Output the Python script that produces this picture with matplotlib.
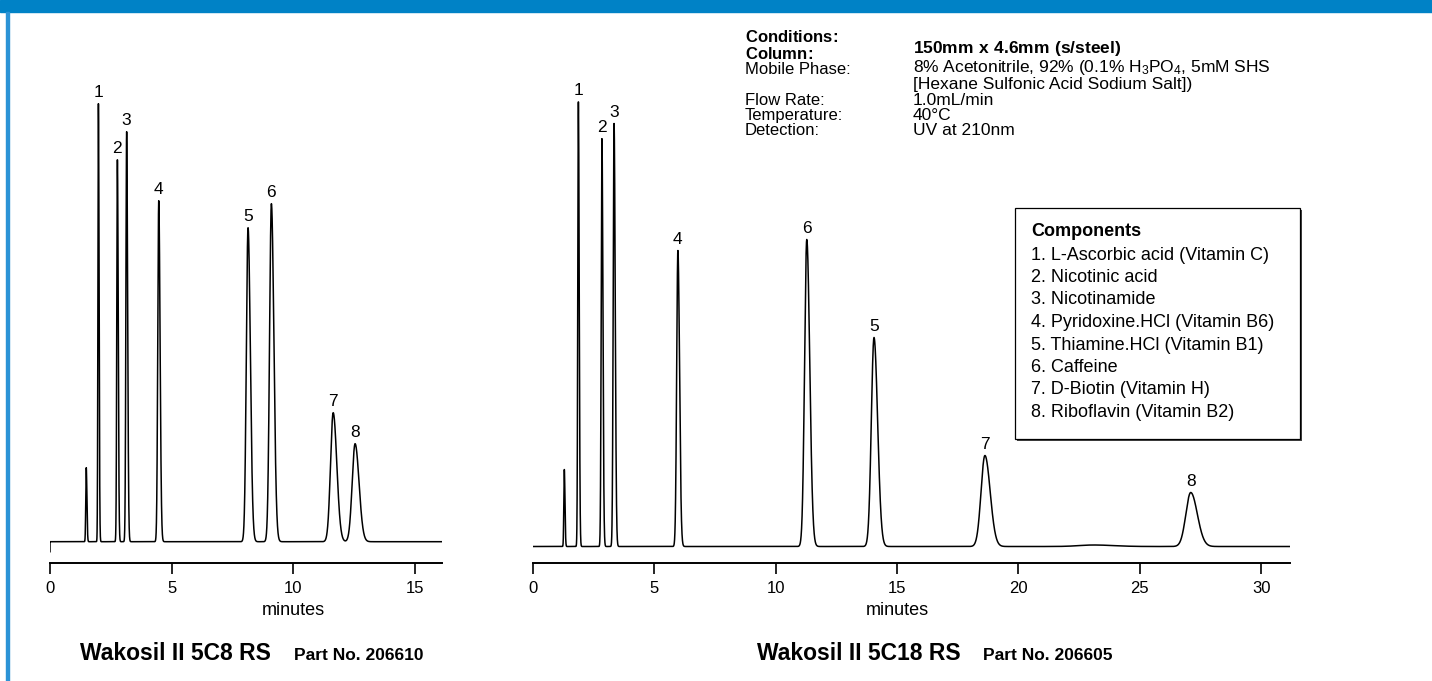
import numpy as np
import matplotlib.pyplot as plt
from matplotlib.patches import Rectangle
from matplotlib.font_manager import FontProperties

plt.rcParams['font.family'] = ['Liberation Sans', 'DejaVu Sans']
plt.rcParams['mathtext.fontset'] = 'custom'
plt.rcParams['mathtext.rm'] = 'Liberation Sans'
plt.rcParams['mathtext.bf'] = 'Liberation Sans:bold'
plt.rcParams['mathtext.default'] = 'regular'

W, H = 1432, 681
BLUE = "#0082c6"

# ---- data (times in minutes, heights in arbitrary units) ----
# Wakosil II 5C8 RS
c8_labels = ["", "1", "2", "3", "4", "5", "6", "7", "8"]
c8_times = [1.49, 1.99, 2.77, 3.15, 4.47, 8.14, 9.10, 11.64, 12.54]
c8_heights = [74, 438, 382, 410, 341, 314, 338, 129, 98]
c8_widths = [0.02, 0.02, 0.025, 0.03, 0.04, 0.07, 0.075, 0.11, 0.12]
c8_start_dip = -10

# Wakosil II 5C18 RS
c18_labels = ["", "1", "2", "3", "4", "6", "5", "7", "8", ""]
c18_times = [1.29, 1.87, 2.84, 3.34, 5.97, 11.28, 14.05, 18.62, 27.1, 23.1]
c18_heights = [77, 445, 408, 423, 296, 307, 209, 91, 54, 1.5]
c18_widths = [0.02, 0.025, 0.03, 0.035, 0.05, 0.09, 0.11, 0.16, 0.2, 0.6]

c8_ticks = [0, 5, 10, 15]
c18_ticks = [0, 5, 10, 15, 20, 25, 30]

# conditions block; bold rows written as mathtext bold so each column is one text
cond_keys = [r"$\mathbf{Conditions\!:}$", r"$\mathbf{Column\!:}$", "Mobile Phase:", "",
             "Flow Rate:", "Temperature:", "Detection:"]
cond_vals = ["", r"$\mathbf{150mm\ x\ 4.6mm\ (s/steel)}$",
             "8% Acetonitrile, 92% (0.1% H$_3$PO$_4$, 5mM SHS",
             "[Hexane Sulfonic Acid Sodium Salt])",
             "1.0mL/min", "40°C", "UV at 210nm"]

components = ["1. L-Ascorbic acid (Vitamin C)", "2. Nicotinic acid", "3. Nicotinamide",
              "4. Pyridoxine.HCl (Vitamin B6)", "5. Thiamine.HCl (Vitamin B1)",
              "6. Caffeine", "7. D-Biotin (Vitamin H)", "8. Riboflavin (Vitamin B2)"]

TAIL = 1.35  # right side of each peak a bit wider (tailing)
ROW = 15.3   # px between rows of the conditions block


def trace(t, times, heights, widths):
    y = np.zeros_like(t)
    for t0, h, s in zip(times, heights, widths):
        sig = np.where(t < t0, s, s * TAIL)
        y += h * np.exp(-(t - t0)**2 / (2 * sig**2))
    return y


def px_rect(x0, y0, x1, y1):
    return [x0 / W, 1 - y1 / H, (x1 - x0) / W, (y1 - y0) / H]


def ftext(x, y, s, **kw):
    return fig.text(x / W, 1 - y / H, s, **kw)


def spacing_for(size):
    # linespacing factor that gives ROW pixels between baselines
    r = fig.canvas.get_renderer()
    fp = FontProperties(family=['Liberation Sans'], size=size)
    _, h, d = r.get_text_width_height_descent("lp", fp, ismath=False)
    return (ROW - d) / (h - d)


def rows_text(x, first_baseline, lines, size):
    # multi-line text; va="baseline" pins the last line, so place that one
    y_last = first_baseline + (len(lines) - 1) * ROW
    return ftext(x, y_last, "\n".join(lines), ha="left", va="baseline", fontsize=size,
                 linespacing=spacing_for(size))


def chromatogram(rect_px, t_max, base_px, times, heights, widths, labels, ticks,
                 minutes_at, dip=None):
    x0, y0, x1, y1 = rect_px
    ax = fig.add_axes(px_rect(*rect_px))
    t = np.linspace(0, t_max, 12000)
    y = trace(t, times, heights, widths)
    if dip is not None:
        t = np.concatenate([[0], t])
        y = np.concatenate([[dip], y])
    ax.plot(t, y, color="black", lw=1.1, solid_joinstyle="round")
    ax.set_xlim(0, t_max)
    off = y1 - base_px
    ax.set_ylim(-off, (y1 - y0) - off)
    for sp in ["left", "right", "top"]:
        ax.spines[sp].set_visible(False)
    ax.spines["bottom"].set_linewidth(1.4)
    ax.set_yticks([])
    ax.set_xticks(ticks)
    ax.tick_params(axis="x", direction="out", length=8, width=1.2, pad=5, labelsize=12)
    for lab, t0, h in zip(labels, times, heights):
        if lab:
            ax.annotate(lab, (t0, h), xytext=(0, 4.5), textcoords="offset points",
                        ha="center", va="baseline", fontsize=12.5)
    ax.annotate("minutes", (minutes_at, 0), xycoords=ax.get_xaxis_transform(),
                xytext=(0, -34.5), textcoords="offset points",
                ha="center", va="center", fontsize=13)
    ax.patch.set_alpha(0)
    return ax


fig = plt.figure(figsize=(W / 100, H / 100), dpi=100)

# frame decoration
fig.patches.append(Rectangle((0, 1 - 12 / H), 1, 12 / H, transform=fig.transFigure,
                             color=BLUE, zorder=0))
fig.patches.append(Rectangle((6 / W, 0), 3 / W, 1 - 12 / H, transform=fig.transFigure,
                             color="#2b93d6", zorder=0))

chromatogram((50, 60, 441.7, 562.7), 16.1, 541.7, c8_times, c8_heights, c8_widths,
             c8_labels, c8_ticks, 10, dip=c8_start_dip)
chromatogram((533, 60, 1290, 563), 31.19, 546.5, c18_times, c18_heights, c18_widths,
             c18_labels, c18_ticks, 15)

ftext(80, 654, "Wakosil II 5C8 RS", ha="left", va="center", fontsize=16.5, fontweight="bold")
ftext(294, 656, "Part No. 206610", ha="left", va="center", fontsize=12.5, fontweight="bold")
ftext(757, 654, "Wakosil II 5C18 RS", ha="left", va="center", fontsize=16.5, fontweight="bold")
ftext(983, 656, "Part No. 206605", ha="left", va="center", fontsize=12.5, fontweight="bold")

b0 = 43.5
rows_text(745, b0, cond_keys, 12)
rows_text(913, b0, cond_vals, 12.5)

# components box
fig.patches.append(Rectangle((1017 / W, 1 - 441 / H), 285 / W, 231 / H, transform=fig.transFigure,
                             facecolor="#444444", edgecolor="none", zorder=1))
fig.patches.append(Rectangle((1015 / W, 1 - 439 / H), 285 / W, 231 / H, transform=fig.transFigure,
                             facecolor="white", edgecolor="black", lw=0.9, zorder=2))
ftext(1031, 232, "Components", ha="left", va="center", fontsize=13, fontweight="bold", zorder=3)
for i, c in enumerate(components):
    ftext(1031, 255 + i * 22.5, c, ha="left", va="center", fontsize=13, zorder=3)

fig.savefig("out.png", dpi=100)
